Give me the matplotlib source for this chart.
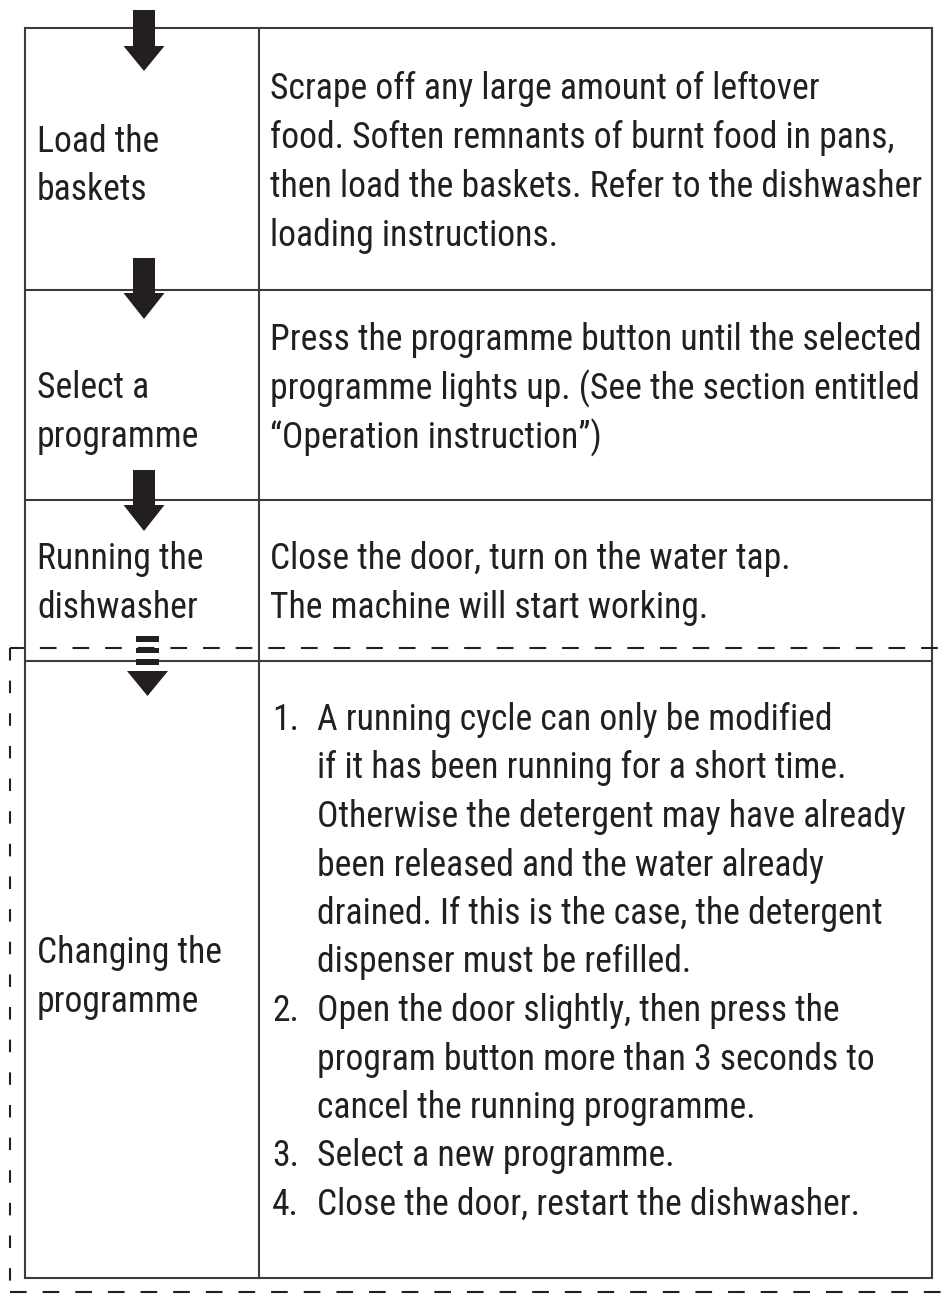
import matplotlib
matplotlib.use("Agg")
import matplotlib.pyplot as plt
from matplotlib import font_manager
from matplotlib.patches import Polygon, Rectangle

plt.rcParams['lines.scale_dashes'] = False

# step names (left column), one list of lines per row
step_labels = [["Load the", "baskets"],
               ["Select a", "programme"],
               ["Running the", "dishwasher"],
               ["Changing the", "programme"]]

# descriptions for the first three rows
step_text = [
    ["Scrape off any large amount of leftover",
     "food. Soften remnants of burnt food in pans,",
     "then load the baskets. Refer to the dishwasher",
     "loading instructions."],
    ["Press the programme button until the selected",
     "programme lights up. (See the section entitled",
     "\u201cOperation instruction\u201d)"],
    ["Close the door, turn on the water tap.",
     "The machine will start working."],
]

# numbered list for the last row
change_items = [
    ["A running cycle can only be modified",
     "if it has been running for a short time.",
     "Otherwise the detergent may have already",
     "been released and the water already",
     "drained. If this is the case, the detergent",
     "dispenser must be refilled."],
    ["Open the door slightly, then press the",
     "program button more than 3 seconds to",
     "cancel the running programme."],
    ["Select a new programme."],
    ["Close the door, restart the dishwasher."],
]


def pick_font(names):
    for n in names:
        try:
            font_manager.findfont(font_manager.FontProperties(family=n),
                                  fallback_to_default=False)
            return n
        except ValueError:
            pass
    return "DejaVu Sans"


fam = pick_font(["Liberation Sans Narrow", "Roboto Condensed", "Open Sans Condensed",
                 "Noto Sans", "Liberation Sans"])

ink = "#231f20"
rule = "#3c3c3c"

fig = plt.figure(figsize=(9.42, 12.96), dpi=100)
ax = fig.add_axes([0, 0, 1, 1])
ax.set_xlim(0, 942)
ax.set_ylim(1296, 0)
ax.axis("off")

# table frame
rows = [28, 290, 500, 661, 1278]
x0, xm, x1 = 25, 259, 932
ax.add_patch(Rectangle((x0, rows[0]), x1 - x0, rows[-1] - rows[0], fill=False,
                       ec=rule, lw=1.5, zorder=2))
for y in rows[1:-1]:
    ax.plot([x0, x1], [y, y], color=rule, lw=1.5, zorder=2)
ax.plot([xm, xm], [rows[0], rows[-1]], color=rule, lw=1.5, zorder=2)

# dashed box around the last row (right side falls off the page)
ax.plot([10, 942], [648, 648], color=ink, lw=1.5, linestyle=(2, (12, 11.5)), zorder=3)
ax.plot([10, 942], [1292, 1292], color=ink, lw=1.5, linestyle=(0, (12, 11.5)), zorder=3)
ax.plot([10, 10], [648, 1292], color=ink, lw=1.5, linestyle=(0, (9, 14.5)), zorder=3)


def arrow(cx, top, neck, tip, sh=11, hh=20.5):
    pts = [(cx - sh, top), (cx + sh, top), (cx + sh, neck), (cx + hh, neck),
           (cx, tip), (cx - hh, neck), (cx - sh, neck)]
    ax.add_patch(Polygon(pts, closed=True, fc=ink, ec="none", zorder=5))


arrow(144, 10, 46, 71)
arrow(144, 258, 293, 319)
arrow(144, 470, 505, 531)
# broken arrow into the last row
for a, b in [(636, 642), (648, 653), (659, 665)]:
    ax.add_patch(Rectangle((136, a), 23, b - a, fc=ink, ec="none", zorder=5))
ax.add_patch(Polygon([(127, 671), (168, 671), (147.5, 696)], closed=True,
                     fc=ink, ec="none", zorder=5))

texts = []
fs = 28
label_base = [(152, 200), (398, 447), (569, 618), (963, 1012)]
for lines, bases in zip(step_labels, label_base):
    for s, yb in zip(lines, bases):
        texts.append(ax.text(37, yb, s, fontsize=fs, family=fam, color=ink,
                             va="baseline", ha="left"))

text_first = [99, 350, 569]
ref = None
for lines, yb in zip(step_text, text_first):
    for i, s in enumerate(lines):
        t = ax.text(270, yb + i * 49, s, fontsize=fs, family=fam, color=ink,
                    va="baseline", ha="left")
        texts.append(t)
        if s.startswith("Press the"):
            ref = t

yb = 730
for n, item in enumerate(change_items, start=1):
    texts.append(ax.text(272, yb, f"{n}.", fontsize=fs, family=fam, color=ink,
                         va="baseline", ha="left"))
    for s in item:
        texts.append(ax.text(317, yb, s, fontsize=fs, family=fam, color=ink,
                             va="baseline", ha="left"))
        yb += 48.5

# fit the widest line to the width it has in the source
fig.canvas.draw()
w = ref.get_window_extent().width
scale = min(650.0 / w, 1.15)
for t in texts:
    t.set_fontsize(t.get_fontsize() * scale)

fig.savefig("out.png", dpi=100, facecolor="white")
